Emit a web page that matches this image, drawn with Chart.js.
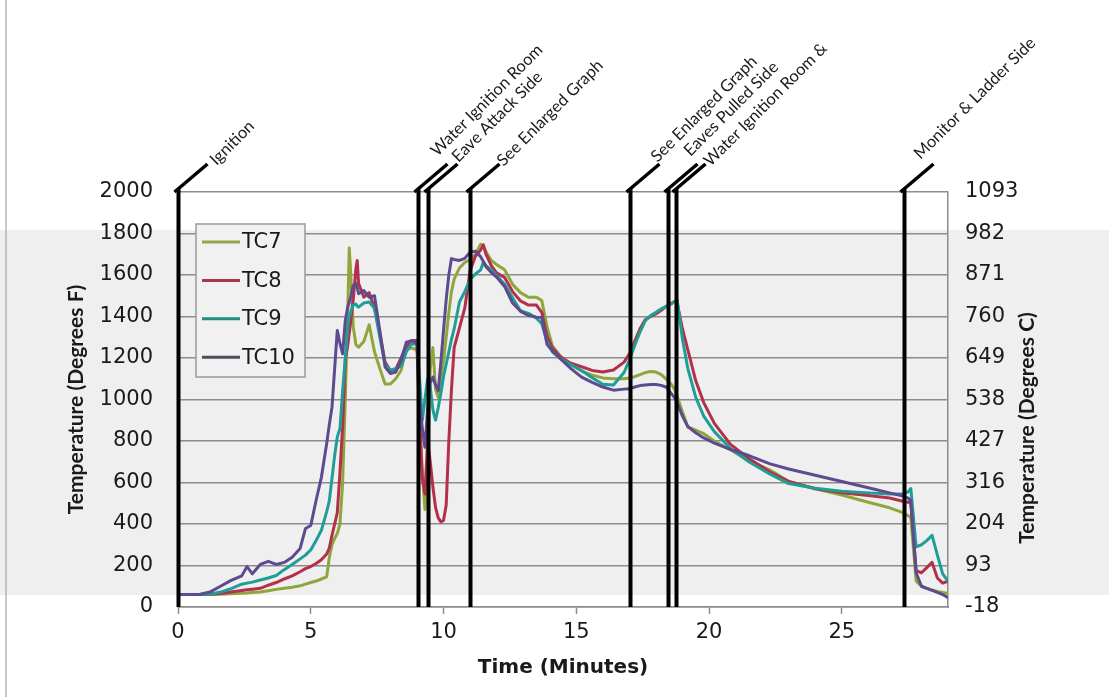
<!DOCTYPE html>
<html>
<head>
<meta charset="utf-8">
<script src="https://cdn.jsdelivr.net/npm/chart.js@4.4.1/dist/chart.umd.min.js"></script>
<style>
  html, body { margin: 0; padding: 0; background: #fff; }
  #wrap { width: 1109px; height: 697px; }
</style>
</head>
<body>
<div id="wrap"><canvas id="chart" width="1109" height="697"></canvas></div>
<script>
// ─── Data ────────────────────────────────────────────────────────────────────

const minutes = [
  0, 0.8, 1.2, 1.6, 2.0, 2.4, 2.6, 2.8, 3.1, 3.4, 3.7, 4.0, 4.3, 4.6, 4.8, 5.0,
  5.2, 5.4, 5.6, 5.7, 5.8, 5.9, 6.0, 6.1, 6.2, 6.3, 6.4, 6.45, 6.5, 6.6, 6.7, 6.75, 6.8, 7.0,
  7.2, 7.4, 7.6, 7.8, 8.0, 8.2, 8.4, 8.6, 8.8, 9.0,
  9.1, 9.2, 9.3, 9.4, 9.5, 9.6, 9.7, 9.8, 9.9, 10.0, 10.1, 10.2, 10.3, 10.4, 10.6, 10.8, 11.0,
  11.2, 11.4, 11.5, 11.6, 11.8, 12.0, 12.3, 12.6, 12.9, 13.2, 13.5, 13.7, 13.9, 14.1,
  14.4, 14.8, 15.2, 15.6, 16.0, 16.4, 16.8, 17.0, 17.2, 17.4, 17.6, 17.8, 18.0,
  18.2, 18.4, 18.6, 18.7, 18.8, 19.0, 19.2, 19.5, 19.8, 20.2, 20.8, 21.5,
  22.3, 23.0, 24.0, 25.0, 26.0, 26.8, 27.3, 27.5, 27.6, 27.8, 28.0, 28.2, 28.4, 28.6, 28.8, 29.0
];

const tc7 = [
  60, 60, 60, 62, 64, 66, 68, 70, 72, 78, 85, 90, 95, 102, 110, 118,
  125, 135, 145, 240, 300, 330, 354, 400, 600, 1000, 1462, 1730, 1620, 1350, 1265, 1258, 1252, 1280,
  1360, 1230, 1150, 1075, 1075, 1100, 1140, 1245, 1248, 1240,
  900, 658, 470, 700, 1150, 1250, 1050, 1010, 1100, 1188, 1300, 1420, 1520, 1580, 1634, 1660, 1675,
  1700, 1748, 1738, 1712, 1670, 1650, 1625, 1555, 1515, 1493, 1493, 1477, 1350, 1258,
  1210, 1168, 1137, 1117, 1104, 1100, 1100, 1104, 1110, 1120, 1130, 1135, 1132,
  1120, 1097, 1070, 1050, 1015, 940, 867, 852, 835, 800, 758, 705,
  660, 605, 570, 540, 505, 478, 455, 440, 433, 125, 100, 90, 82, 75, 70, 65
];

const tc8 = [
  60, 60, 62, 65, 72, 80, 83, 86, 90, 105, 118, 135, 150, 170, 185, 195,
  210, 228, 255, 285, 345, 400, 455, 650, 870, 1190, 1268, 1320, 1370, 1480, 1630, 1670, 1560, 1493,
  1515, 1440, 1320, 1180, 1140, 1145, 1200, 1255, 1284, 1284,
  900, 620, 545, 800, 700, 578, 480, 430, 410, 417, 490, 800, 1050, 1250, 1345, 1440, 1620,
  1690, 1720, 1745, 1700, 1645, 1610, 1588, 1520, 1475, 1455, 1455, 1420, 1305, 1248,
  1205, 1175, 1158, 1140, 1133, 1142, 1180, 1220, 1280, 1341, 1385, 1400, 1412,
  1430, 1450, 1465, 1472, 1465, 1340, 1240, 1090, 985, 885, 785, 715,
  650, 605, 570, 550, 537, 525, 510, 505, 500, 175, 165, 190, 215, 140, 115, 125
];

const tc9 = [
  60, 60, 62, 72, 88, 110, 115, 120, 130, 140, 152, 180, 205, 232, 250, 275,
  320, 370, 460, 513, 620, 730, 820, 860, 1040, 1200, 1360, 1400, 1420, 1455, 1460, 1450, 1445, 1465,
  1470, 1440, 1300, 1170, 1140, 1150, 1160, 1230, 1268, 1268,
  1100, 900, 1000, 1100, 1060, 950, 900, 960, 1030, 1110, 1170, 1230, 1290, 1340, 1470, 1520, 1578,
  1605, 1625, 1662, 1645, 1625, 1598, 1555, 1490, 1428, 1415, 1392, 1365, 1280, 1230,
  1197, 1168, 1140, 1105, 1073, 1070, 1130, 1190, 1260, 1325, 1380, 1405, 1420,
  1437, 1450, 1462, 1472, 1480, 1290, 1150, 1010, 920, 845, 765, 700,
  640, 595, 572, 558, 550, 545, 545, 555, 571, 290, 300, 320, 345, 250, 160, 125
];

const tc10 = [
  60, 60, 72, 100, 128, 150, 195, 160, 205, 220, 205, 215, 240, 282, 378, 393,
  513, 625, 788, 880, 963, 1150, 1333, 1270, 1220, 1380, 1450, 1470, 1493, 1550, 1560, 1540, 1510, 1525,
  1493, 1500, 1333, 1156, 1125, 1132, 1188, 1276, 1284, 1270,
  1000, 860, 770, 950, 1080, 1108, 1070, 1043, 1180, 1333, 1480, 1600, 1679, 1675, 1670, 1680, 1710,
  1715, 1688, 1665, 1640, 1612, 1590, 1545, 1465, 1425, 1405, 1397, 1395, 1265, 1235,
  1197, 1149, 1108, 1083, 1060, 1045, 1050, 1052, 1060, 1067, 1070, 1072, 1072,
  1068, 1059, 1025, 1010, 985, 920, 870, 840, 815, 790, 760, 730,
  690, 665, 635, 605, 575, 550, 535, 525, 513, 165, 100, 90, 80, 70, 60, 45
];

const seriesNames = ["TC7", "TC8", "TC9", "TC10"];
const seriesValues = [tc7, tc8, tc9, tc10];

// event markers (minutes) and their captions
const eventTimes = [0, 9.03, 9.41, 11.0, 17.02, 18.44, 18.76, 27.36];
const eventLabels = [
  "Ignition",
  "Water Ignition Room",
  "Eave Attack Side",
  "See Enlarged Graph",
  "See Enlarged Graph",
  "Eaves Pulled Side",
  "Water Ignition Room &",
  "Monitor & Ladder Side"
];

// ─── Styles ──────────────────────────────────────────────────────────────────

const FONT_H = "'DejaVu Sans', sans-serif";   // horizontal text
const FONT_V = "Lato, 'Noto Sans', sans-serif"; // rotated text
const TEXT = "#1a1a1a";
const GRID = "#8c8c8c";

const seriesColors = ["#8fa63a", "#b3304b", "#1f9e98", "#5e4a8e"];
const legendColors = ["#9aa24a", "#a8344e", "#1e8f80", "#4f4d5a"];

// caption offsets from each marker line: x shift, baseline above plot top
const labelDx = [38, 19, 30, 33, 27, 22, 34, 16];
const labelDy = [-26, -35, -29, -25, -29, -35, -25, -32];

// ─── Plugins ─────────────────────────────────────────────────────────────────

const backdrop = {
  id: "backdrop",
  beforeDraw(chart) {
    const ctx = chart.ctx;
    ctx.save();
    ctx.fillStyle = "#ffffff";
    ctx.fillRect(0, 0, chart.width, chart.height);
    ctx.fillStyle = "#efefef";             // scanner band
    ctx.fillRect(0, 230, chart.width, 365);
    ctx.strokeStyle = "#b5b5b5";
    ctx.lineWidth = 1.5;
    ctx.beginPath();
    ctx.moveTo(6, 0);
    ctx.lineTo(6, chart.height);
    ctx.stroke();
    ctx.restore();
  }
};

const markers = {
  id: "markers",
  afterDatasetsDraw(chart) {
    const { ctx, chartArea, scales } = chart;
    ctx.save();
    ctx.strokeStyle = "#000";
    ctx.fillStyle = TEXT;
    ctx.font = "16.5px " + FONT_V;
    ctx.textAlign = "left";
    ctx.textBaseline = "alphabetic";
    eventTimes.forEach((t, i) => {
      const x = Math.round(scales.x.getPixelForValue(t)) + 0.5;
      ctx.lineWidth = 4;
      ctx.beginPath();
      ctx.moveTo(x, chartArea.bottom);
      ctx.lineTo(x, chartArea.top - 3);
      ctx.stroke();
      ctx.lineWidth = 3.5;
      ctx.beginPath();
      ctx.moveTo(x - 4, chartArea.top);
      ctx.lineTo(x + 29, chartArea.top - 28);
      ctx.stroke();
      ctx.save();
      ctx.translate(x + labelDx[i], chartArea.top + labelDy[i]);
      ctx.rotate(-Math.PI / 4);
      ctx.fillText(eventLabels[i], 0, 0);
      ctx.restore();
    });
    ctx.restore();
  }
};

const extras = {
  id: "extras",
  afterDraw(chart) {
    const ctx = chart.ctx;
    ctx.save();

    // legend box
    const bx = 196, by = 224, bw = 109, bh = 153;
    ctx.fillStyle = "#f1f1f1";
    ctx.fillRect(bx, by, bw, bh);
    ctx.strokeStyle = "#9a9a9a";
    ctx.lineWidth = 1.5;
    ctx.strokeRect(bx, by, bw, bh);
    ctx.font = "21px " + FONT_H;
    ctx.textBaseline = "middle";
    ctx.textAlign = "left";
    seriesNames.forEach((name, i) => {
      const y = 242 + i * 38.4;
      ctx.strokeStyle = legendColors[i];
      ctx.lineWidth = 3;
      ctx.beginPath();
      ctx.moveTo(202, y);
      ctx.lineTo(240, y);
      ctx.stroke();
      ctx.fillStyle = TEXT;
      ctx.fillText(name, 242, y + 1);
    });

    // right axis title, reads bottom to top like the left one
    ctx.translate(1027, 428);
    ctx.rotate(-Math.PI / 2);
    ctx.font = "bold 21px " + FONT_V;
    ctx.textAlign = "center";
    ctx.fillStyle = TEXT;
    ctx.fillText("Temperature (Degrees C)", 0, 0);
    ctx.restore();
  }
};

// ─── Chart ───────────────────────────────────────────────────────────────────

const datasets = seriesNames.map((name, i) => ({
  label: name,
  data: minutes.map((m, k) => ({ x: m, y: seriesValues[i][k] })),
  borderColor: seriesColors[i],
  borderWidth: 3,
  pointRadius: 0,
  tension: 0,
  borderJoinStyle: "round",
  order: 3 - i
}));

new Chart(document.getElementById("chart"), {
  type: "line",
  data: { datasets },
  options: {
    responsive: false,
    animation: false,
    devicePixelRatio: 1,
    layout: { padding: { top: 192, left: 0, right: 0, bottom: 0 } },
    plugins: { legend: { display: false }, tooltip: { enabled: false } },
    scales: {
      x: {
        type: "linear",
        min: 0,
        max: 29,
        ticks: {
          stepSize: 5,
          includeBounds: false,
          color: TEXT,
          font: { family: FONT_H, size: 21 },
          padding: 6,
          maxRotation: 0,
          callback: (v) => String(v)
        },
        grid: { drawOnChartArea: false, drawTicks: true, tickLength: 7, tickColor: GRID, tickWidth: 1.5 },
        border: { color: GRID, width: 1.5 },
        title: {
          display: true,
          text: "Time (Minutes)",
          color: TEXT,
          font: { family: FONT_H, size: 20, weight: "bold" },
          padding: { top: 0, bottom: 17 }
        },
        afterFit: (s) => { s.height = 90; }
      },
      y: {
        position: "left",
        min: 0,
        max: 2000,
        ticks: {
          stepSize: 200,
          color: TEXT,
          font: { family: FONT_H, size: 21 },
          padding: 25,
          callback: (v) => String(v)
        },
        grid: { color: GRID, lineWidth: 1.6, drawTicks: false },
        border: { display: false },
        title: {
          display: true,
          text: "Temperature (Degrees F)",
          color: TEXT,
          font: { family: FONT_V, size: 21, weight: "bold" },
          padding: { top: 64, bottom: 0 }
        },
        afterFit: (s) => { s.width = 178; }
      },
      y2: {
        position: "right",
        min: 0,
        max: 2000,
        ticks: {
          stepSize: 200,
          color: TEXT,
          font: { family: FONT_H, size: 21 },
          padding: 17,
          callback: (v) => String(Math.round((v - 32) * 5 / 9))
        },
        grid: { drawOnChartArea: false, drawTicks: false },
        border: { color: GRID, width: 1.5 },
        afterFit: (s) => { s.width = 161; }
      }
    }
  },
  plugins: [backdrop, markers, extras]
});
</script>
</body>
</html>
